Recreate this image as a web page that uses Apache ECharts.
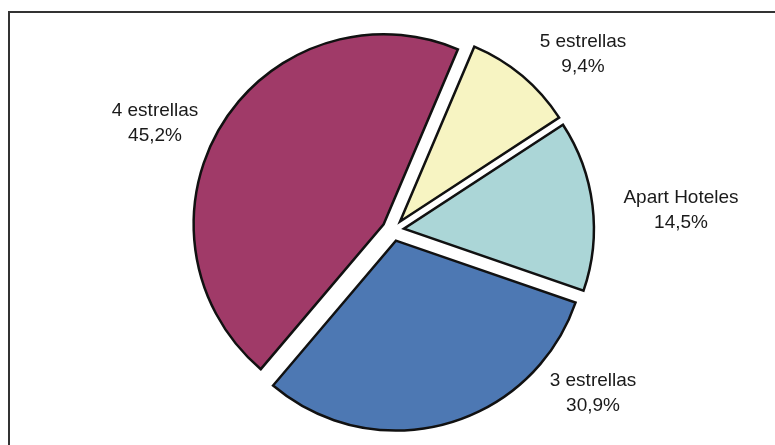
<!DOCTYPE html>
<html>
<head>
<meta charset="utf-8">
<script src="https://cdn.jsdelivr.net/npm/echarts@6/dist/echarts.min.js"></script>
<style>
html,body{margin:0;padding:0;background:#fff;}
#c{width:775px;height:445px;}
</style>
</head>
<body>
<div id="c"></div>
<script>
const categories = ['5 estrellas', 'Apart Hoteles', '3 estrellas', '4 estrellas'];
const values = [9.4, 14.5, 30.9, 45.2];
const colors = ['#F7F4C2', '#ABD6D7', '#4D78B3', '#A03A68'];
// label anchor positions (block centres) in pixels
const labelAnchors = [[583, 54], [681, 210], [593, 393], [155, 123]];

const fmt = v => String(v).replace('.', ',') + '%';

const chart = echarts.init(document.getElementById('c'), null, {renderer: 'canvas'});
chart.setOption({
  animation: false,
  backgroundColor: '#ffffff',
  graphic: [{
    type: 'rect',
    z: 0,
    shape: {x: 9, y: 12, width: 900, height: 600},
    style: {fill: 'none', stroke: '#333333', lineWidth: 2}
  }].concat(categories.map((n, i) => ({
    type: 'text',
    z: 10,
    x: labelAnchors[i][0],
    y: labelAnchors[i][1],
    style: {
      text: n + '\n' + fmt(values[i]),
      fill: '#1a1a1a',
      font: '19px "Liberation Sans", Arial, sans-serif',
      lineHeight: 25,
      align: 'center',
      verticalAlign: 'middle'
    }
  }))),
  series: [{
    type: 'pie',
    center: [393, 230],
    radius: [0, 190],
    startAngle: 67,
    clockwise: true,
    selectedMode: 'multiple',
    selectedOffset: 11,
    itemStyle: {borderColor: '#111111', borderWidth: 2.5, borderJoin: 'miter'},
    emphasis: {disabled: true},
    label: {show: false},
    labelLine: {show: false},
    data: categories.map((n, i) => ({
      name: n,
      value: values[i],
      selected: true,
      itemStyle: {color: colors[i]}
    }))
  }]
});
</script>
</body>
</html>
